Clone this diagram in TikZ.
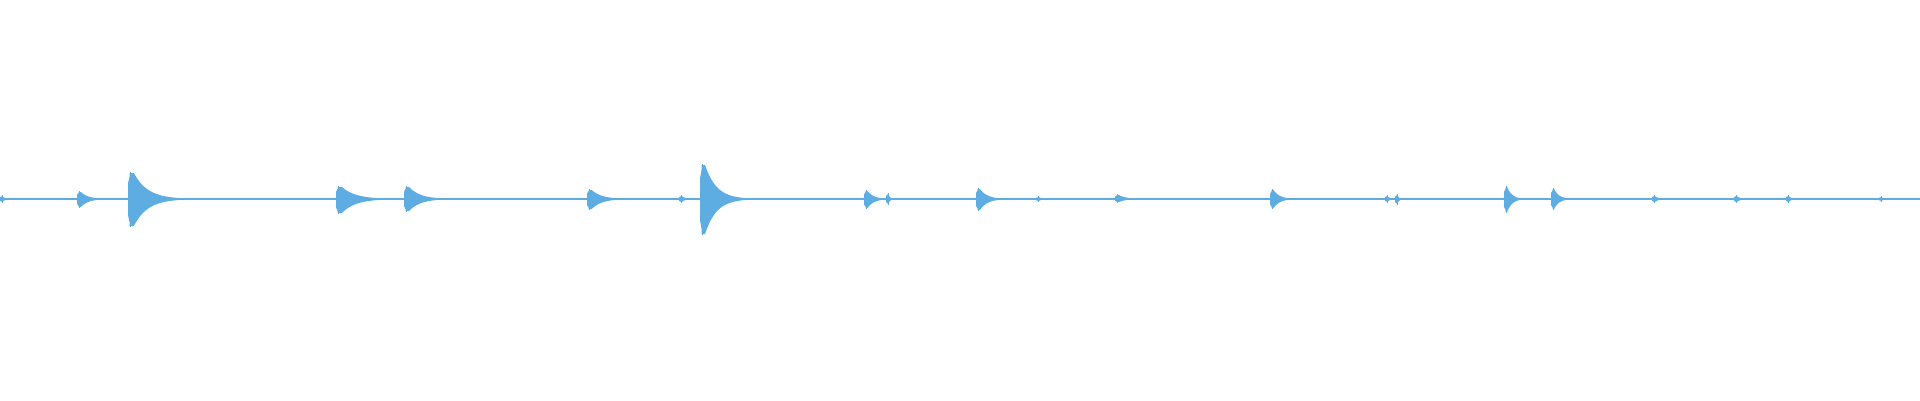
\documentclass[tikz,border=0pt]{standalone}
\definecolor{wave}{HTML}{5DADE2}
\newcommand{\wburst}[4]{% x, up, down, len
  \fill[wave] (#1,0) -- (#1,#2*0.6) -- (#1+1.5,#2*0.85)
    -- plot[domain=0:#4,samples=40] ({#1+1.5+\x},{#2*min(1,exp(-4*(\x-#4*0.08)/#4))})
    -- plot[domain=#4:0,samples=40] ({#1+1.5+\x},{-#3*min(1,exp(-4*(\x-#4*0.08)/#4))})
    -- (#1+1.5,-#3*0.85) -- (#1,-#3*0.6) -- cycle;
  \draw[wave,line width=0.8pt] (#1+2,-#3-1) -- (#1+2,#2+1);}
\begin{document}
\begin{tikzpicture}[x=1pt,y=1pt]
\useasboundingbox (0,-201) rectangle (1920,199);
\draw[wave,line width=1.8pt] (0,0) -- (1920,0);
\wburst{0}{3}{3}{10}
\wburst{77}{7}{8}{30}
\wburst{128}{26}{27}{55}
\wburst{336}{12}{14}{55}
\wburst{404}{12}{12}{45}
\wburst{587}{9}{10}{40}
\wburst{679}{3}{3}{15}
\wburst{700}{34}{35}{45}
\wburst{864}{8}{9}{25}
\wburst{886}{5}{5}{8}
\wburst{976}{10}{11}{30}
\wburst{1036}{2}{2}{15}
\wburst{1115}{4}{3}{30}
\wburst{1270}{9}{9}{25}
\wburst{1385}{3}{3}{10}
\wburst{1395}{4}{5}{8}
\wburst{1504}{12}{13}{20}
\wburst{1551}{10}{10}{20}
\wburst{1652}{3}{3}{15}
\wburst{1734}{3}{3}{15}
\wburst{1786}{3}{3}{12}
\wburst{1879}{2}{2}{10}
\end{tikzpicture}
\end{document}
